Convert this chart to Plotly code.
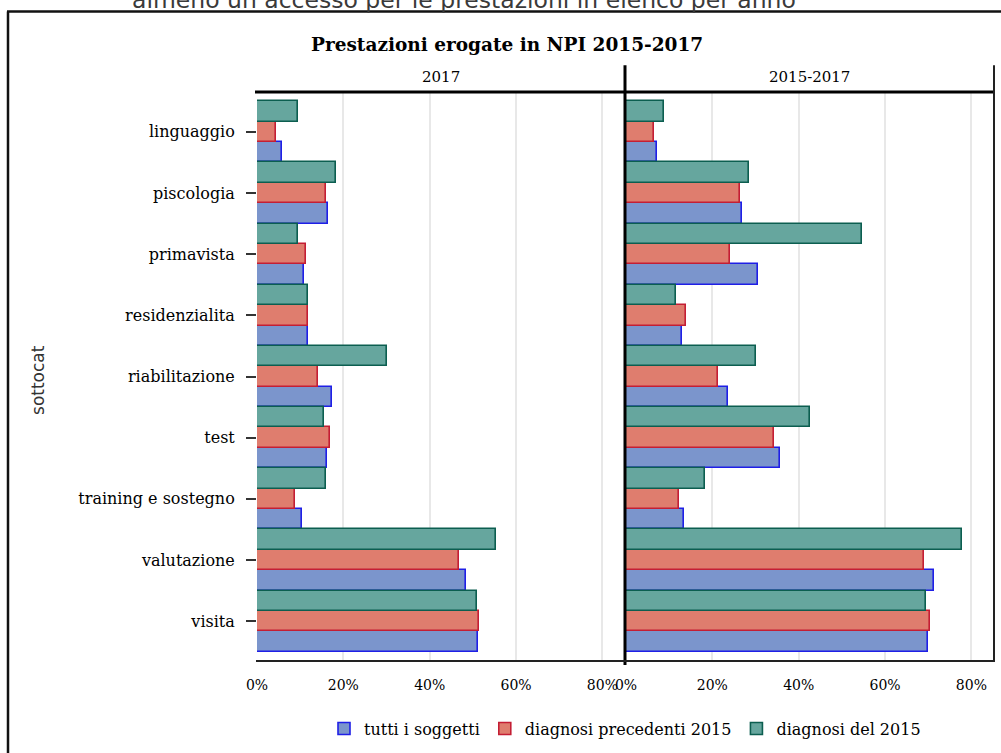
import plotly.graph_objects as go

categories = ["linguaggio", "piscologia", "primavista", "residenzialita", "riabilitazione",
              "test", "training e sostegno", "valutazione", "visita"]
series_names = ["tutti i soggetti", "diagnosi precedenti 2015", "diagnosi del 2015"]

# 2017 panel (fractions)
tutti_2017 = [0.058, 0.164, 0.108, 0.118, 0.173, 0.163, 0.104, 0.484, 0.512]
prec_2017 = [0.044, 0.159, 0.113, 0.117, 0.141, 0.168, 0.089, 0.467, 0.514]
del_2017 = [0.095, 0.183, 0.094, 0.119, 0.302, 0.156, 0.160, 0.554, 0.509]

# 2015-2017 panel (fractions)
tutti_1517 = [0.071, 0.268, 0.306, 0.130, 0.237, 0.357, 0.135, 0.713, 0.700]
prec_1517 = [0.065, 0.264, 0.242, 0.139, 0.213, 0.343, 0.122, 0.690, 0.704]
del_1517 = [0.089, 0.284, 0.546, 0.116, 0.302, 0.426, 0.182, 0.778, 0.695]

panel_titles = ["2017", "2015-2017"]
x_tickvals = [0, 0.2, 0.4, 0.6, 0.8]
x_ticktext = ["0%", "20%", "40%", "60%", "80%"]

fills = ["#7b95cc", "#df7d6e", "#66a69e"]
edges = ["#1f1fe6", "#c41e34", "#0c5e50"]

SERIF = "DejaVu Serif"

fig = go.Figure()
panels = [(tutti_2017, prec_2017, del_2017), (tutti_1517, prec_1517, del_1517)]
for p, vals in enumerate(panels):
    for i, v in enumerate(vals):
        fig.add_trace(go.Bar(
            y=categories, x=v, orientation="h", name=series_names[i],
            marker=dict(color=fills[i], line=dict(color=edges[i], width=1.6)),
            xaxis="x" if p == 0 else "x2", yaxis="y",
            legendgroup=series_names[i], showlegend=(p == 0),
            hovertemplate="%{y}: %{x:.1%}<extra>" + series_names[i] + "</extra>",
        ))

W, H = 1001, 753
ML, MR, MT, MB = 257, 8, 92, 88
PW, PH = W - ML - MR, H - MT - MB


def px_x(px):
    return (px - ML) / PW


def px_y(py):
    return (H - MB - py) / PH


xcommon = dict(range=[0, 0.85], tickvals=x_tickvals, ticktext=x_ticktext, showgrid=True,
               gridcolor="#e8e8e8", gridwidth=1.5, zeroline=False, showline=False, ticks="",
               ticklabelstandoff=14,
               tickfont=dict(family=SERIF, size=14, color="#000"), fixedrange=True)

fig.update_layout(
    width=W, height=H,
    margin=dict(l=ML, r=MR, t=MT, b=MB),
    paper_bgcolor="white", plot_bgcolor="white",
    barmode="group", bargap=0, bargroupgap=0,
    xaxis=dict(domain=[0, px_x(624)], anchor="y", **xcommon),
    xaxis2=dict(domain=[px_x(626), 1], anchor="y", **xcommon),
    yaxis=dict(type="category", categoryorder="array", categoryarray=categories[::-1],
               range=[-0.65, 8.65], ticks="outside", ticklen=10, tickwidth=1.5,
               tickcolor="#333", showgrid=False, zeroline=False, showline=False,
               ticklabelstandoff=8,
               tickfont=dict(family=SERIF, size=16, color="#000")),
    showlegend=True,
    legend=dict(orientation="h", x=0.5, xanchor="center", y=px_y(733), yanchor="middle",
                font=dict(family=SERIF, size=16, color="#000"), traceorder="normal",
                bgcolor="rgba(0,0,0,0)"),
)

shapes = []
# top header line
shapes.append(dict(type="line", xref="paper", yref="paper", x0=px_x(255), x1=px_x(995),
                   y0=1, y1=1, line=dict(color="#000", width=3)))
# panel separator
shapes.append(dict(type="line", xref="paper", yref="paper", x0=px_x(625), x1=px_x(625),
                   y0=px_y(669), y1=px_y(65), line=dict(color="#000", width=3)))
# right border
shapes.append(dict(type="line", xref="paper", yref="paper", x0=px_x(994), x1=px_x(994),
                   y0=px_y(666), y1=px_y(65), line=dict(color="#222", width=2)))
# bottom axis line
shapes.append(dict(type="line", xref="paper", yref="paper", x0=px_x(256), x1=px_x(995),
                   y0=px_y(665), y1=px_y(665), line=dict(color="#222", width=2)))
# outer frame (left and top)
shapes.append(dict(type="line", xref="paper", yref="paper", x0=px_x(8), x1=px_x(8),
                   y0=px_y(770), y1=px_y(11), line=dict(color="#111", width=2.5)))
shapes.append(dict(type="line", xref="paper", yref="paper", x0=px_x(7), x1=px_x(1020),
                   y0=px_y(11), y1=px_y(11), line=dict(color="#111", width=2.5)))
fig.update_layout(shapes=shapes)

annotations = [
    dict(text="almeno un accesso per le prestazioni in elenco per anno", xref="paper",
         yref="paper", x=px_x(464), y=px_y(15), xanchor="center", yanchor="bottom",
         showarrow=False, font=dict(family="DejaVu Sans", size=23.5, color="#3a3a3a")),
    dict(text="<b>Prestazioni erogate in NPI 2015-2017</b>", xref="paper", yref="paper",
         x=px_x(507), y=px_y(44), xanchor="center", yanchor="middle", showarrow=False,
         font=dict(family=SERIF, size=18.5, color="#000")),
    dict(text=panel_titles[0], xref="paper", yref="paper", x=px_x(440.5), y=px_y(77),
         xanchor="center", yanchor="middle", showarrow=False,
         font=dict(family=SERIF, size=15, color="#000")),
    dict(text=panel_titles[1], xref="paper", yref="paper", x=px_x(809.5), y=px_y(77),
         xanchor="center", yanchor="middle", showarrow=False,
         font=dict(family=SERIF, size=15, color="#000")),
    dict(text="sottocat", xref="paper", yref="paper", x=px_x(38), y=px_y(382),
         xanchor="center", yanchor="middle", textangle=-90, showarrow=False,
         font=dict(family="DejaVu Sans", size=17, color="#333")),
]
fig.update_layout(annotations=annotations)

fig.write_html("out.html", config={"displayModeBar": False},
               post_script="document.body.style.margin='0';document.body.style.padding='0';")
